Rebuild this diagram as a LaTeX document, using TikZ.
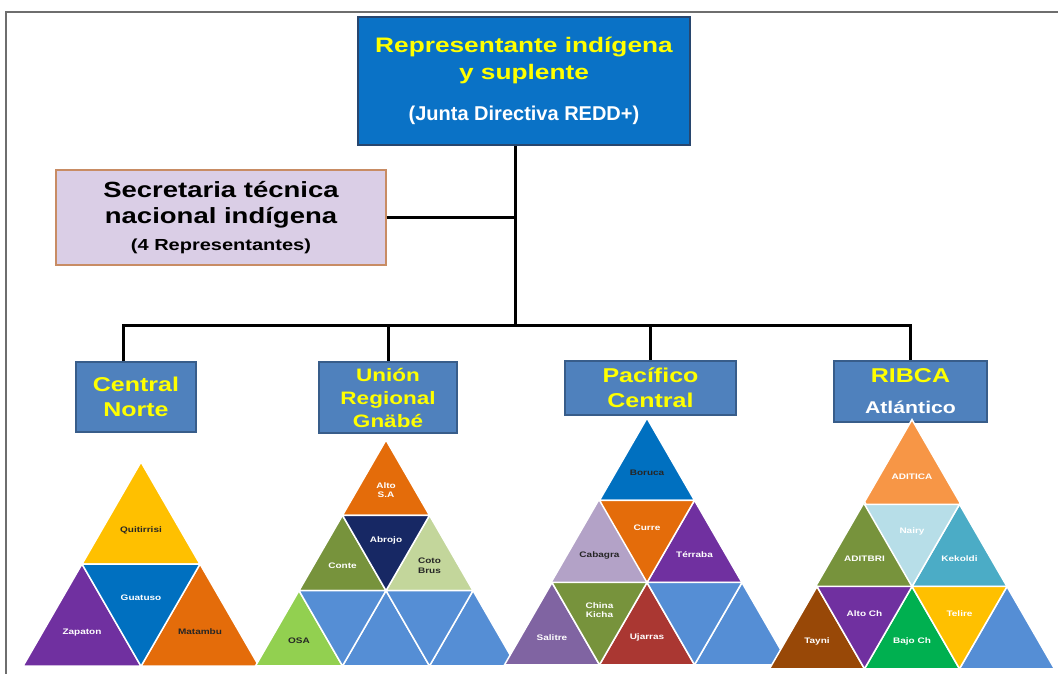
\documentclass[tikz,border=0pt]{standalone}
\usepackage{fontspec}
\setmainfont{Liberation Sans}
\newfontfamily\widefont{Liberation Sans}[FakeStretch=1.25]
\usetikzlibrary{shapes.geometric}

\definecolor{repblue}{RGB}{10,114,198}
\definecolor{repedge}{RGB}{40,70,110}
\definecolor{secfill}{RGB}{218,206,230}
\definecolor{secedge}{RGB}{200,140,100}
\definecolor{regblue}{RGB}{79,129,189}
\definecolor{regedge}{RGB}{56,93,138}
\definecolor{titleyellow}{RGB}{255,255,0}
\definecolor{framegray}{RGB}{110,110,110}
\definecolor{fillblue}{RGB}{85,142,213}
\definecolor{cyellow}{RGB}{255,192,0}
\definecolor{cpurple}{RGB}{112,48,160}
\definecolor{cblue}{RGB}{0,112,192}
\definecolor{corange}{RGB}{228,108,10}
\definecolor{colive}{RGB}{119,147,60}
\definecolor{cnavy}{RGB}{23,40,100}
\definecolor{clightgreen}{RGB}{195,214,155}
\definecolor{cgreen}{RGB}{146,208,80}
\definecolor{clilac}{RGB}{179,162,199}
\definecolor{cviolet}{RGB}{128,100,162}
\definecolor{cred}{RGB}{170,55,50}
\definecolor{clightorange}{RGB}{247,150,70}
\definecolor{cpaleblue}{RGB}{183,222,232}
\definecolor{cteal}{RGB}{75,172,198}
\definecolor{cbrown}{RGB}{152,72,7}
\definecolor{cbrightgreen}{RGB}{0,176,80}

\begin{document}
\begin{tikzpicture}[x=1pt,y=-1pt,
  box/.style={line width=1.2pt, inner sep=0pt, align=center},
  region/.style={box, fill=regblue, draw=regedge, text=titleyellow, font=\widefont\bfseries\fontsize{20}{25}\selectfont},
  conn/.style={line width=3pt, black},
  tri/.style={regular polygon, regular polygon sides=3, draw=white, line width=1.5pt, inner sep=0pt, outer sep=0pt, align=center, text=white, font=\widefont\bfseries\fontsize{8}{9.5}\selectfont},
  inv/.style={shape border rotate=180},
  dark/.style={text=black!85},
  s118/.style={minimum size=136.3pt},
  s95/.style={minimum size=109.7pt},
  s87/.style={minimum size=100.5pt}]
\useasboundingbox (0,0) rectangle (1058,674);
\draw[framegray, line width=2pt] (6,674) -- (6,12) -- (1058,12);

% top of the chart
\node[box, fill=repblue, draw=repedge, minimum width=332pt, minimum height=128pt, text=titleyellow, font=\widefont\bfseries\fontsize{21}{27}\selectfont] (rep) at (524,81) {Representante indígena\\y suplente\\[14pt]{\normalfont\bfseries\fontsize{20}{24}\selectfont\color{white}(Junta Directiva REDD+)}};
\node[box, fill=secfill, draw=secedge, minimum width=330pt, minimum height=95pt, font=\widefont\bfseries\fontsize{22}{26.5}\selectfont] (sec) at (221,217.5) {Secretaria técnica\\nacional indígena\\{\fontsize{16}{19}\selectfont(4 Representantes)}};

% regions
\node[region, minimum width=120pt, minimum height=70pt] (cn) at (136,397) {Central\\Norte};
\node[region, minimum width=138pt, minimum height=71pt, font=\widefont\bfseries\fontsize{18}{23}\selectfont] (urg) at (388,397.5) {Unión\\Regional\\Gnäbé};
\node[region, minimum width=171pt, minimum height=54pt] (pc) at (650.5,388) {Pacífico\\Central};
\node[region, minimum width=153pt, minimum height=61pt] (ribca) at (910.5,391.5) {RIBCA\\[6pt]{\color{white}\fontsize{17}{20}\selectfont Atlántico}};

\coordinate (bus) at (515,325);
\coordinate (b1) at (123,325);
\coordinate (b2) at (388,325);
\coordinate (b3) at (650,325);
\coordinate (b4) at (910,325);
\draw[conn] ([xshift=-9pt]rep.south) -- (bus);
\draw[conn] (sec.east) -- (sec.east -| bus);
\draw[conn] (cn.north -| b1) -- (b1) -- (b4) -- (ribca.north -| b4);
\draw[conn] (b2) -- (urg.north -| b2);
\draw[conn] (b3) -- (pc.north -| b3);

% Central Norte
\node[tri, s118, fill=cyellow, dark] (quit) at (141,530.1) {Quitirrisi};
\node[tri, s118, fill=cpurple] (zap) at (82,632.1) {Zapaton};
\node[tri, s118, fill=corange, dark] (mat) at (200,632.1) {Matambu};
\node[tri, s118, inv, fill=cblue] (guat) at (141,598.1) {Guatuso};

% Union Regional Gnabe
\node[tri, s87, fill=corange] (alto) at (386,490.2) {Alto\\S.A};
\node[tri, s87, fill=colive] (conte) at (342.5,565.5) {Conte};
\node[tri, s87, fill=clightgreen, dark] (coto) at (429.5,565.5) {Coto\\Brus};
\node[tri, s87, inv, fill=cnavy] (abrojo) at (386,540.4) {Abrojo};
\node[tri, s87, fill=cgreen, dark] (osa) at (299,640.8) {OSA};
\node[tri, s87, fill=fillblue] (ub1) at (386,640.8) {};
\node[tri, s87, fill=fillblue] (ub2) at (473,640.8) {};
\node[tri, s87, inv, fill=fillblue] (ub3) at (342.5,615.7) {};
\node[tri, s87, inv, fill=fillblue] (ub4) at (429.5,615.7) {};

% Pacifico Central
\node[tri, s95, fill=cblue, dark] (boruca) at (647,472.9) {Boruca};
\node[tri, s95, fill=clilac, dark] (cabagra) at (599.5,555.1) {Cabagra};
\node[tri, s95, fill=cpurple] (terraba) at (694.5,555.1) {Térraba};
\node[tri, s95, inv, fill=corange] (curre) at (647,527.7) {Curre};
\node[tri, s95, fill=cviolet] (salitre) at (552,637.4) {Salitre};
\node[tri, s95, fill=cred] (ujarras) at (647,637.4) {Ujarras};
\node[tri, s95, fill=fillblue] (pb1) at (742,637.4) {};
\node[tri, s95, inv, fill=colive] (china) at (599.5,609.9) {China\\Kicha};
\node[tri, s95, inv, fill=fillblue] (pb2) at (694.5,609.9) {};

% RIBCA Atlantico
\node[tri, s95, fill=clightorange] (aditica) at (912,476.9) {ADITICA};
\node[tri, s95, fill=colive] (aditbri) at (864.5,559.1) {ADITBRI};
\node[tri, s95, fill=cteal] (kekoldi) at (959.5,559.1) {Kekoldi};
\node[tri, s95, inv, fill=cpaleblue] (nairy) at (912,531.7) {Nairy};
\node[tri, s95, fill=cbrown] (tayni) at (817,641.4) {Tayni};
\node[tri, s95, fill=cbrightgreen] (bajoch) at (912,641.4) {Bajo Ch};
\node[tri, s95, fill=fillblue] (rb1) at (1007,641.4) {};
\node[tri, s95, inv, fill=cpurple] (altoch) at (864.5,613.9) {Alto Ch};
\node[tri, s95, inv, fill=cyellow] (telire) at (959.5,613.9) {Telire};
\end{tikzpicture}
\end{document}
